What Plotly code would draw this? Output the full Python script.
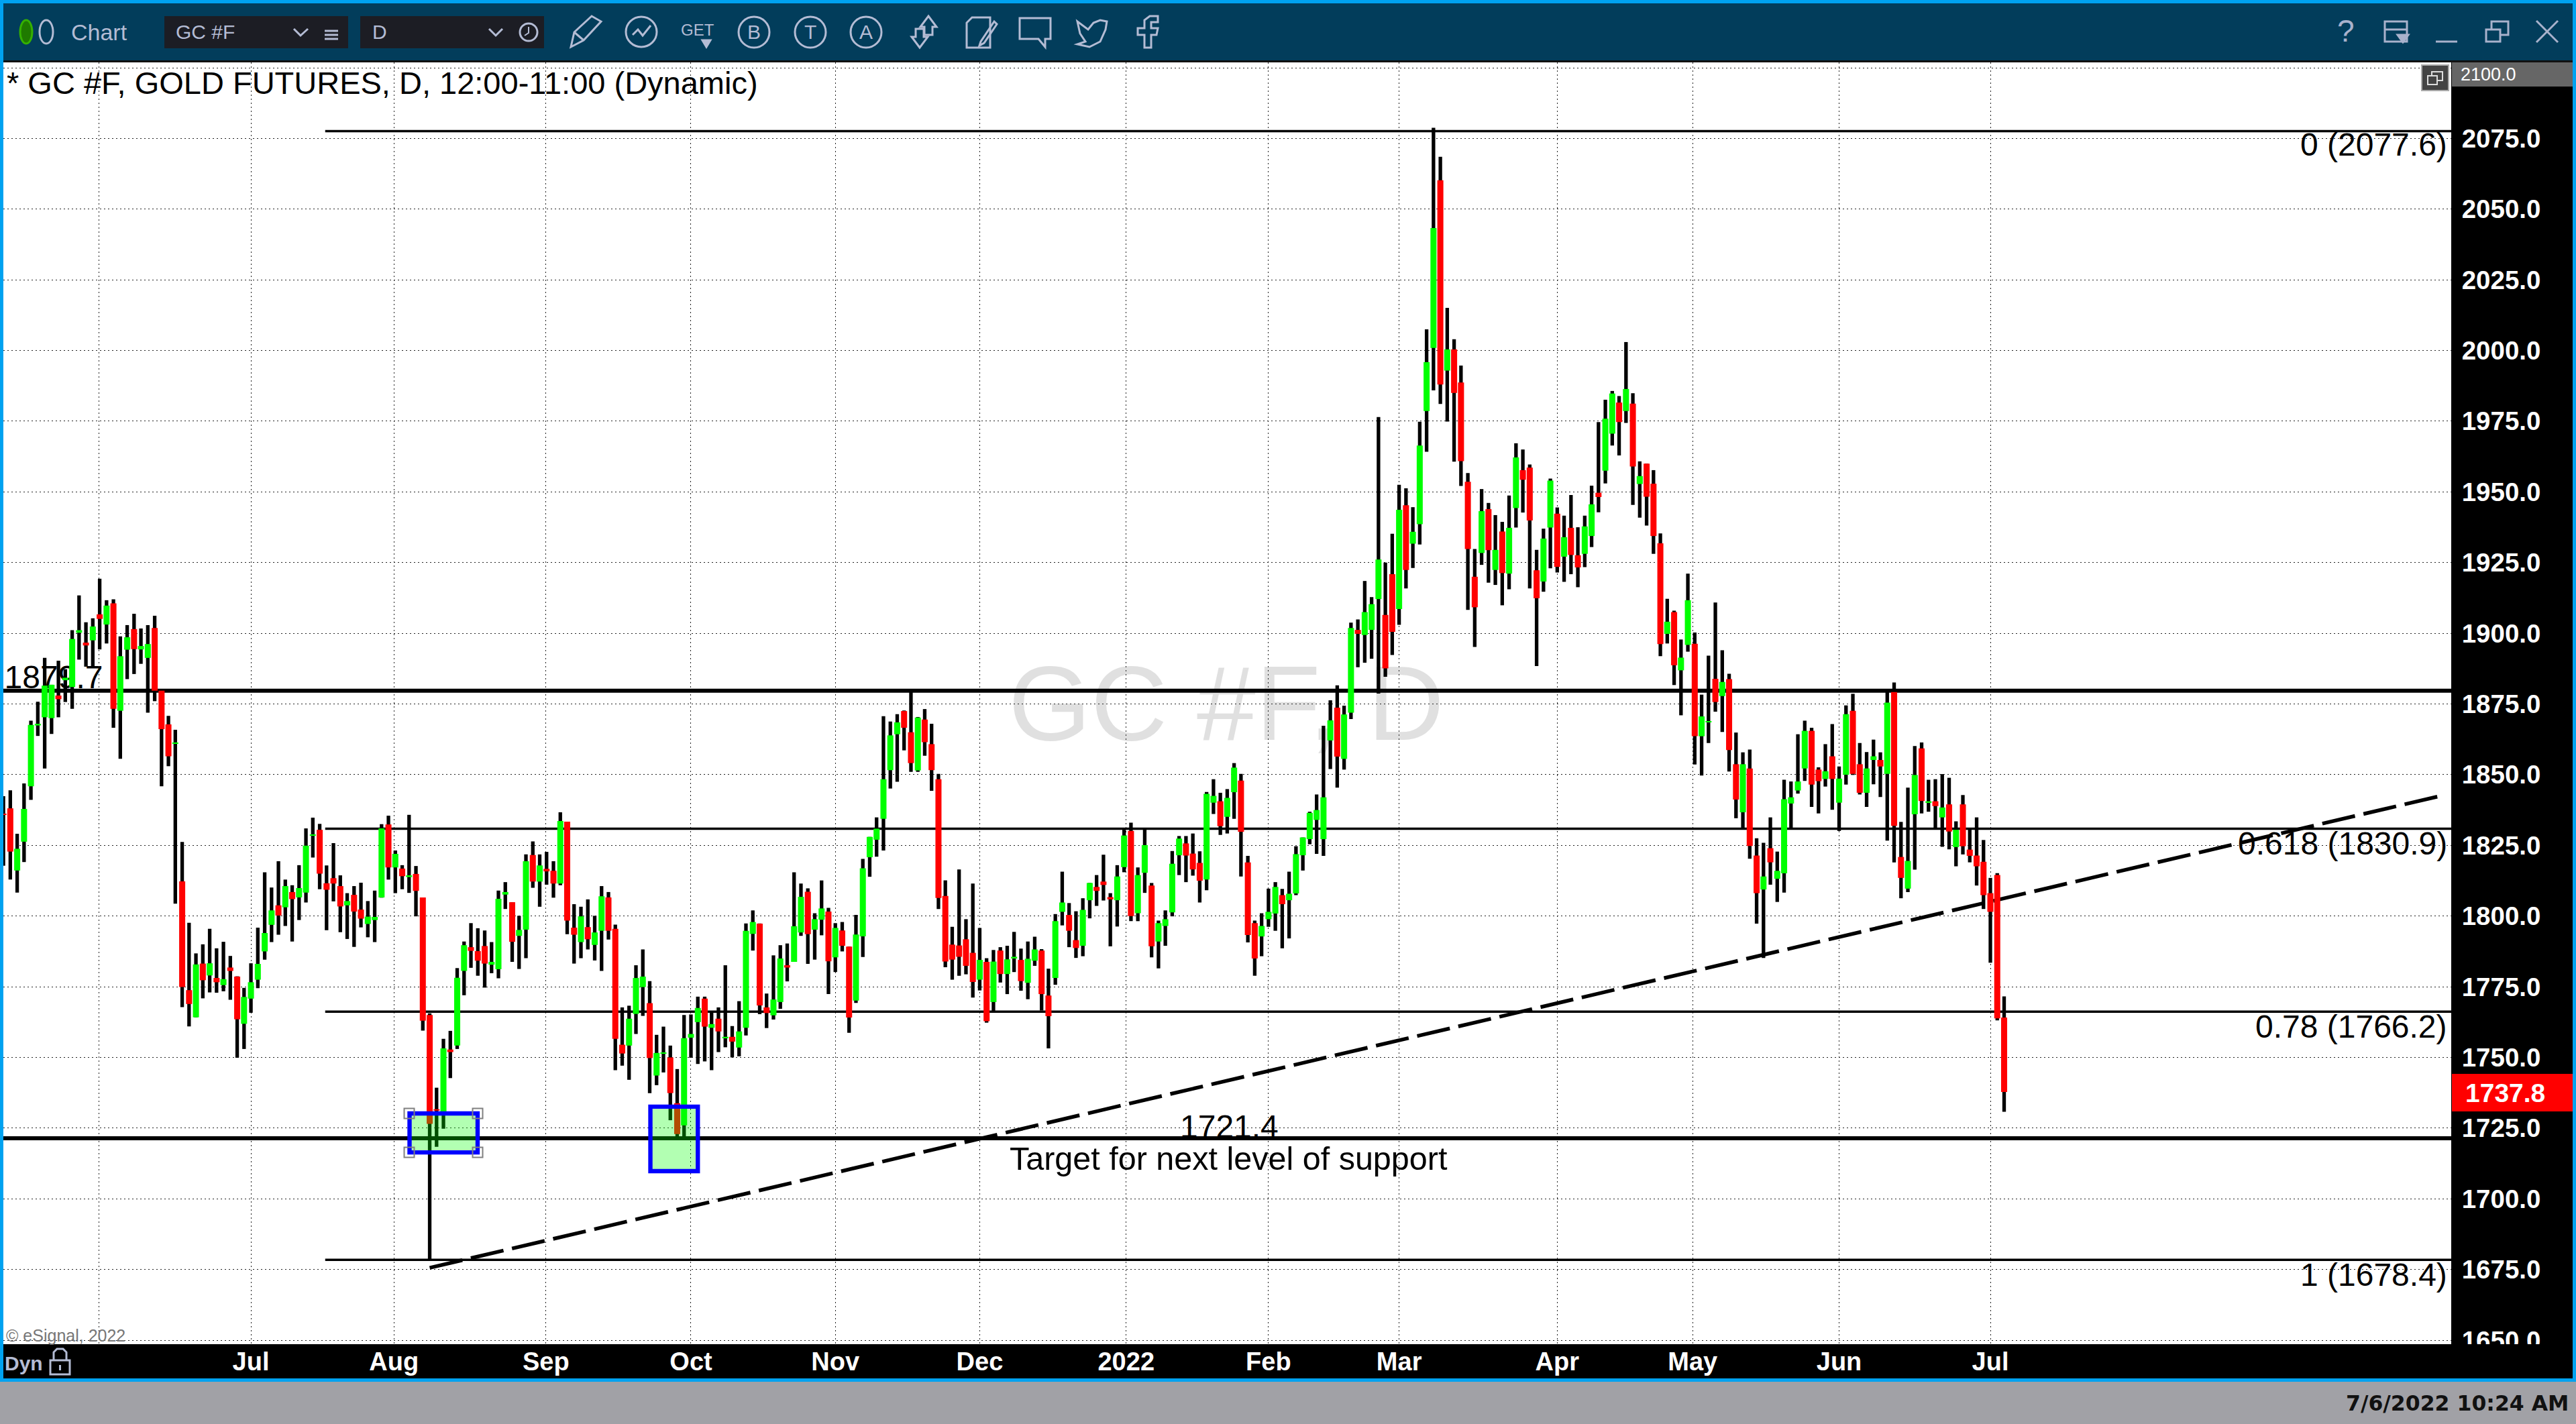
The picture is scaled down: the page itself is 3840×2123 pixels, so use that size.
import plotly.graph_objects as go

highs = [1842.4,1844.5,1829.1,1846.9,1869.1,1875.8,1891.3,1881.8,1890.3,1887.3,
1901.1,1913.4,1903.9,1905.3,1919.3,1911.7,1912,1898.9,1902.9,1906.9,
1901.7,1902.9,1906.2,1879.7,1870.8,1865.9,1826.2,1797.6,1786.8,1790,
1795.5,1788.6,1790.9,1785.9,1778.7,1774.6,1783.3,1795.9,1815.5,1810.1,
1819.4,1812.9,1810.9,1818,1831,1834.8,1832.6,1817.9,1825.8,1814.4,
1808.1,1810.6,1811.8,1805.3,1809,1832.5,1835.5,1823.2,1818,1835.8,
1817.7,1806.6,1765.6,1739.3,1756.6,1759.4,1781.6,1791,1797.5,1795.7,
1794.9,1790.8,1809,1812,1804.9,1800.1,1821.8,1826.4,1821.8,1822.7,
1819.4,1836.7,1833.4,1804.2,1803.3,1805.9,1800.1,1810.6,1808.5,1797,
1767.7,1768.3,1782.6,1788.2,1777,1758,1760.9,1754.2,1745.9,1765,
1765.2,1771.5,1771.5,1766.1,1767.7,1782.6,1761.1,1769.9,1797.4,1802,
1797.4,1772.6,1786.1,1789.7,1790.3,1815.5,1811.5,1809.8,1801,1812.6,
1802.9,1797.5,1797.9,1789.2,1800.4,1820.2,1828,1834.9,1870.7,1868.8,
1871.4,1872.7,1879.4,1870.4,1873.2,1868,1850.3,1812.6,1796.2,1816.5,
1798.9,1811.5,1795.8,1785.1,1788,1789,1789.5,1794.4,1788.5,1791,
1792.7,1788.3,1781.4,1800.7,1815.7,1804.6,1801.7,1806.3,1811.7,1814.5,
1821.7,1808.1,1818,1831.2,1833,1817.2,1830.8,1811.7,1798.4,1802,
1823,1828.3,1828.3,1829.2,1822.9,1843.9,1848.4,1843.6,1844.9,1854.1,
1850.3,1821.3,1798.4,1801,1809.7,1812,1809.6,1815.7,1824.7,1827.8,
1836.9,1843,1867.3,1876.3,1881.6,1874.4,1903.8,1904.9,1918.5,1912.8,
1976.5,1925,1935.2,1952.5,1951.3,1944.6,1974.8,2007.5,2078.8,2068.5,
2015.1,2004,1994.7,1956.7,1929.8,1951,1946.1,1941.8,1939.4,1948.7,
1967.2,1965,1959.7,1929.5,1937,1954.7,1944.5,1941.6,1948.9,1937.5,
1941.6,1952.2,1974.7,1982.6,1985.7,1983.9,2003,1984.9,1960.8,1960,
1957.7,1935.3,1912.2,1908,1897.8,1921.1,1900.3,1878.3,1892.1,1910.9,
1894,1885.7,1864.9,1857.9,1858.9,1827.5,1825.9,1834.9,1822.8,1848.2,
1847.6,1864.3,1869.1,1866.6,1852.6,1860.8,1867.9,1852.9,1874.5,1878.6,
1861.2,1858,1862.4,1857.9,1879.8,1882.6,1833.3,1845.4,1860.1,1861.4,
1848.2,1848.4,1850.2,1848.9,1833.5,1842.8,1830.8,1834.9,1826.9,1813.5,1815.2,1771.6]

lows = [1817.8,1812.9,1808.3,1819.1,1841.1,1863.7,1852.2,1864.4,1870.3,1875.7,
1873.3,1890.7,1888.2,1888.2,1894.3,1896.4,1866.6,1855.6,1883.8,1885.6,
1889.2,1871.9,1876,1845.9,1853,1804.4,1767.8,1761,1764.2,1770.9,
1773,1772.9,1773.4,1770.4,1749.9,1753,1765.8,1774.5,1784.6,1790.8,
1793.4,1796.5,1791,1798.6,1804.8,1820.7,1809.5,1795,1805.2,1794.3,
1791.9,1789.1,1796,1792.5,1790.8,1806.5,1812.9,1808.1,1809.5,1808.2,
1799.9,1759.5,1678,1718.4,1724.8,1742.7,1753,1772,1781.7,1778.9,
1774.7,1779.8,1778,1802.5,1783.8,1781.3,1785.1,1810,1803.3,1811.1,
1806.5,1810.9,1793.6,1783.2,1785.1,1788.2,1784.3,1780.6,1791.7,1745.5,
1747.1,1742.1,1758.3,1764.7,1737.4,1740.2,1744.7,1727.8,1722,1722,
1749.9,1747.7,1748.6,1745.5,1751.9,1753.6,1750,1750.4,1757.8,1787.8,
1765.3,1760.4,1763.4,1767.2,1776.9,1783.8,1793,1783.1,1784.6,1793.2,
1772.4,1780.2,1787.5,1758.7,1769.3,1785.5,1813.9,1821,1823.2,1845.1,
1847.5,1858.6,1851,1851,1856.7,1844.3,1802.5,1781.9,1777.5,1778.9,
1779.4,1771.2,1773.7,1762.3,1766.5,1776.5,1772.4,1780.2,1773.6,1770.6,
1782.4,1766.6,1753.2,1775.7,1796.7,1789,1785.2,1785.8,1799.2,1803.6,
1805.5,1789.3,1796.3,1815.5,1798.2,1798.2,1808.2,1785.4,1781.5,1789.5,
1799.9,1814.5,1812,1814.3,1804.8,1809.1,1836.1,1828.7,1829.2,1834.4,
1814,1790.7,1778.9,1785.8,1796.2,1794.8,1788.6,1792.1,1807.4,1816.1,
1825.4,1822,1821.3,1852,1845.4,1851.8,1869.7,1888,1889.6,1891,
1878.7,1884.6,1892.3,1903,1915.9,1923.1,1931.4,1964.2,1985.9,1981.1,
1974.9,1960.7,1952.1,1908.3,1895.2,1924.2,1917.9,1917.1,1909.9,1915.6,
1937.4,1942.7,1915.9,1888.4,1914.7,1923,1921.5,1918.2,1920.9,1916.3,
1923.4,1930.5,1942.8,1953,1966.4,1962.9,1974.4,1945.4,1940.9,1938.1,
1928.1,1891.9,1896.4,1881.7,1871,1893.5,1853.6,1849.7,1861.2,1872.3,
1865.1,1851.1,1834.6,1830.8,1820.3,1797.3,1785.2,1811.1,1805,1808.3,
1830.8,1843.3,1847.8,1838.6,1836.3,1845.8,1837.6,1830.1,1846.5,1849.9,
1843,1838.6,1846.6,1842.1,1826.7,1819,1806.3,1808.5,1816.4,1836.3,
1836.9,1831.2,1824.5,1823.6,1817.6,1821.8,1819,1810.8,1802.5,1783.5,1763.1,1730.8]

opens = [1836.1,1838.1,1816.1,1826.3,1845.9,1867.4,1870.3,1870,1878,1883.4,
1881,1900.2,1896.7,1897.5,1906.7,1903.1,1910.6,1872.6,1894.2,1901.5,
1894.3,1891.3,1901.9,1879.7,1867.8,1861.1,1812.3,1773.8,1764.2,1783.2,
1779,1778.1,1775.6,1781.8,1778.6,1761.9,1770.8,1777.5,1787.5,1796.9,
1803.8,1803.1,1808.5,1806.6,1808.3,1828.5,1830.5,1811.6,1813.4,1810.6,
1803.8,1807.5,1802.3,1797.2,1798.6,1806.6,1832.4,1817.2,1816.8,1813.8,
1814.9,1806.6,1765,1731.7,1730,1752.8,1754.2,1780.6,1789,1787.6,
1789.4,1782.8,1781.2,1807.6,1804.9,1793,1795.2,1821.6,1812.2,1816.7,
1816,1811.5,1833.4,1795.9,1790.8,1796.1,1789.8,1794.8,1806.6,1795.5,
1754.5,1754.2,1765.4,1774.9,1769.2,1743.6,1751.5,1750,1733.8,1726,
1757,1762.5,1770.8,1760.5,1763.7,1756.9,1757.3,1753.5,1760.5,1793.7,
1797.3,1767.7,1764.9,1769.6,1782.6,1783.8,1794.2,1808.6,1795.2,1798.7,
1801.6,1785.4,1794.9,1789.2,1770.1,1792.8,1820.8,1827,1834.4,1851.6,
1864.3,1872.5,1865,1851.5,1869.5,1860.8,1848.4,1807.1,1789.9,1789.6,
1791.8,1787,1777.5,1783.8,1769.6,1787.8,1779.5,1785.2,1784.5,1776.4,
1784.2,1787.8,1771.9,1778.1,1801.5,1800.4,1791.5,1789.5,1805.6,1810.3,
1812.2,1806.7,1805.6,1817.3,1830.1,1801,1815.3,1810.8,1791,1796.5,
1801.3,1821.5,1825.7,1822.1,1818.8,1812.9,1840.1,1840.6,1835.1,1843.8,
1847.9,1819,1797.5,1792.8,1798.9,1800.9,1807.4,1805.6,1808,1821.5,
1827.2,1834,1827.2,1862.1,1873.7,1855.6,1871.9,1901.2,1899.4,1901.2,
1912.1,1906.5,1920.9,1908.6,1945.3,1931.7,1938.6,1978.6,2000.9,2060.2,
1992.9,2000.4,1988.7,1953.6,1920,1928.4,1943.9,1922.4,1936,1921.1,
1944.3,1957.7,1958.6,1922.3,1918.3,1937.4,1942.3,1927.1,1937.3,1927.6,
1928.1,1934.4,1949.7,1957.5,1970.6,1981.6,1978.6,1981.2,1952.8,1960,
1952.9,1931.8,1899.8,1907.5,1886.9,1895.9,1896.3,1863.6,1868.5,1883.9,
1877.8,1883.8,1853.7,1836.7,1852.2,1821.4,1809.4,1824,1813.2,1815.1,
1839.8,1844.4,1852.2,1865.5,1851.8,1848.5,1856.5,1840.1,1850,1872.6,
1853.7,1843.6,1855.2,1855.2,1850.3,1879.2,1820.9,1809.7,1836,1859.3,
1840.2,1840.6,1834.9,1839.5,1824.4,1839.5,1823.5,1821.4,1819.2,1808.1,1814.5,1764.1]

closes = [1835.9,1822.8,1823.8,1837.9,1867.6,1868,1881.5,1881.8,1876.7,1884.3,
1898,1901.1,1895.7,1902.4,1905.1,1909.8,1873.3,1891.9,1898.6,1894.4,
1895.5,1896.2,1879.7,1866.1,1856.5,1861.4,1774.9,1768.9,1782.9,1777.3,
1783.3,1776.6,1777.7,1780.6,1763.5,1771.4,1776.6,1783.1,1794,1802,
1800.2,1810.6,1806,1809.9,1824.9,1828.7,1815,1809.3,1811.5,1803.4,
1805.3,1801.6,1799.1,1799.8,1799.7,1831,1817.2,1822,1814.1,1814.4,
1808.9,1763,1726.5,1731.2,1753.2,1751.9,1778.2,1789.7,1787.7,1784.2,
1783.2,1783.8,1806.1,1808.5,1790.9,1795.1,1819.4,1812.2,1817.9,1815.8,
1811.5,1833.6,1798.4,1793.4,1799.9,1791.8,1794.2,1807,1794.8,1756.6,
1751.4,1763.7,1778.1,1778.6,1749.8,1751.6,1751.7,1737.4,1722.9,1756.8,
1758.3,1767.5,1760.9,1761.8,1759.2,1757.3,1755.6,1759.2,1794.8,1797.9,
1768.4,1765.7,1770.5,1785,1781.8,1796.4,1806.8,1793.6,1798.9,1802.7,
1784,1795.8,1789.5,1764.1,1793.5,1816.9,1828,1830.9,1848.4,1863.9,
1868.5,1866.6,1854.1,1870.2,1861.5,1851.6,1806.4,1783.9,1784.6,1785.6,
1782.4,1776.7,1784.5,1762.8,1783.9,1779.5,1784.7,1785.6,1777,1784.9,
1788.2,1772.4,1764.6,1798.2,1804.8,1794.8,1788.7,1802.2,1811.7,1808.9,
1811,1805.9,1814,1828.5,1800,1814.5,1825.1,1789.3,1797.5,1798.9,
1818.5,1827.4,1821.4,1816.5,1812.5,1843.2,1842.5,1831.8,1841.8,1852.5,
1829.8,1793.3,1785,1796.5,1801.5,1810.3,1804.2,1807.9,1821.9,1827.8,
1836.5,1837.5,1842,1869.2,1856.4,1871.3,1901.9,1899.8,1907.5,1910.3,
1926.1,1887.6,1900.5,1943.7,1922.4,1935.9,1966.4,1995.9,2043.3,1988,
2000.4,1985,1960.9,1929.8,1909.2,1943.2,1929.4,1929.5,1921.3,1937.3,
1962.2,1954.3,1939.9,1912.4,1933.5,1954,1923.5,1934,1927.7,1923.3,
1937.8,1945.6,1948.2,1975.9,1984.8,1974.7,1986.4,1959,1955.6,1948.3,
1934.4,1896.2,1904.1,1888.7,1891.4,1911.7,1863.6,1870.6,1868.8,1875.7,
1882.8,1858.7,1841.2,1853.7,1824.8,1808.1,1814,1819,1816,1841.3,
1842,1847.6,1865.5,1846.5,1847.7,1851.2,1848.5,1848.6,1871.4,1850.3,
1843.6,1852.2,1856.5,1852.9,1875.5,1831.9,1813.5,1819.5,1849.9,1840.7,
1840.6,1838.9,1838.4,1829.9,1830.5,1824.7,1821.3,1817.6,1807.4,1801.5,1763.8,1737.8]

assert len(highs) == len(lows) == len(opens) == len(closes) == 292, (len(highs), len(lows), len(opens), len(closes))

month_ticks = [13.94, 36.0, 56.8, 78.9, 100.0, 121.0, 142.0, 163.3, 184.0, 203.0, 226.0, 245.7, 267.0, 289.0]
month_labels = ["", "Jul", "Aug", "Sep", "Oct", "Nov", "Dec", "2022", "Feb", "Mar", "Apr", "May", "Jun", "Jul"]
price_ticks = [1650, 1675, 1700, 1725, 1750, 1775, 1800, 1825, 1850, 1875, 1900, 1925, 1950, 1975, 2000, 2025, 2050, 2075]
fib_levels = [2077.6, 1830.9, 1766.2, 1678.4]
fib_labels = ["0 (2077.6)", "0.618 (1830.9)", "0.78 (1766.2)", "1 (1678.4)"]
level_lines = [1879.7, 1721.4]
trend_x = [62, 355]
trend_y = [1675.6, 1842.8]
fib_start = 46.8
box_a = [59.07, 68.97, 1716.4, 1730.2]
box_b = [94.1, 101.0, 1709.8, 1732.6]

W, H = 3840, 2123
L, R, T, B = 5, 3654, 93, 2004
X_RANGE = [-0.01, 356.03]
Y_RANGE = [1648.6, 2101.9]

def X(p): return (p - L) / (R - L)
def Y(p): return 1 - (p - T) / (B - T)

SANS = "Liberation Sans"
ICON = "#b4bcd4"
BLUE = "#00a2f0"
HEAD = "#023d5b"

ids = list(range(len(highs)))
tops = [max(o, c) for o, c in zip(opens, closes)]
bots = [min(o, c) for o, c in zip(opens, closes)]
colors = ["#00ff00" if c > o else "#ff0000" for o, c in zip(opens, closes)]

fig = go.Figure()
fig.add_trace(go.Bar(x=ids, y=[h - l for h, l in zip(highs, lows)], base=lows, width=0.52,
                     marker=dict(color="black", line=dict(width=0)), hoverinfo="skip"))
fig.add_trace(go.Bar(x=ids, y=[t - b for t, b in zip(tops, bots)], base=bots, width=0.88,
                     marker=dict(color=colors, line=dict(width=0)), hoverinfo="skip"))

shapes, annos = [], []

def rect(x0, y0, x1, y1, fill="rgba(0,0,0,0)", line=None, width=0, layer="above"):
    shapes.append(dict(type="rect", xref="paper", yref="paper", x0=X(x0), x1=X(x1), y0=Y(y1), y1=Y(y0),
                       fillcolor=fill, line=dict(color=line or "rgba(0,0,0,0)", width=width), layer=layer))

def circ(x0, y0, x1, y1, fill="rgba(0,0,0,0)", line=ICON, width=3):
    shapes.append(dict(type="circle", xref="paper", yref="paper", x0=X(x0), x1=X(x1), y0=Y(y1), y1=Y(y0),
                       fillcolor=fill, line=dict(color=line, width=width), layer="above"))

def poly(pts, color=ICON, width=3, close=False, fill=None):
    d = "M " + " L ".join(f"{X(a):.6f} {Y(b):.6f}" for a, b in pts) + (" Z" if close else "")
    shapes.append(dict(type="path", xref="paper", yref="paper", path=d, layer="above",
                       fillcolor=fill or "rgba(0,0,0,0)", line=dict(color=color, width=width)))

def text(x, y, s, size, color="black", anchor="left", family=SANS, weight=400):
    annos.append(dict(xref="paper", yref="paper", x=X(x), y=Y(y), text=s, showarrow=False, xanchor=anchor,
                      yanchor="middle", font=dict(family=family, size=size, color=color, weight=weight),
                      borderpad=0, borderwidth=0))

# Items that sit underneath the candles
def under_label(xc, yc, s, size, color):
    shapes.append(dict(type="line", xref="paper", yref="paper", x0=X(xc - 2), x1=X(xc + 2), y0=Y(yc), y1=Y(yc),
                       line=dict(width=0, color="rgba(0,0,0,0)"), layer="below",
                       label=dict(text=s, font=dict(family=SANS, size=size, color=color),
                                  textposition="middle center", xanchor="center", yanchor="middle")))

under_label(1828, 1033, "GC #F, D", 158, "#e0e0e0")
under_label(80, 1004, "1879.7", 48, "black")

for v in fib_levels:
    shapes.append(dict(type="line", xref="x", yref="y", x0=fib_start, x1=X_RANGE[1], y0=v, y1=v,
                       line=dict(color="black", width=3.5), layer="between"))
for v in level_lines:
    shapes.append(dict(type="line", xref="x", yref="y", x0=X_RANGE[0], x1=X_RANGE[1], y0=v, y1=v,
                       line=dict(color="black", width=6), layer="between"))
shapes.append(dict(type="line", xref="x", yref="y", x0=trend_x[0], x1=trend_x[1], y0=trend_y[0], y1=trend_y[1],
                   line=dict(color="black", width=5.5, dash="50px,13px"), layer="between"))

# Highlight boxes
for b in (box_a, box_b):
    shapes.append(dict(type="rect", xref="x", yref="y", x0=b[0], x1=b[1], y0=b[2], y1=b[3],
                       fillcolor="rgba(0,255,0,0.3)", line=dict(color="#0000ff", width=6.4), layer="above"))
for hx, hy in ((610, 1660), (712, 1660), (610, 1718), (712, 1718)):
    rect(hx - 7.5, hy - 7.5, hx + 7.5, hy + 7.5, line="#808080", width=2)

# Window chrome
rect(3654, 2004, 3835, 2055, fill="black")
rect(0, 0, 3840, 5, fill=BLUE)
rect(0, 5, 3840, 90, fill=HEAD)
rect(0, 90, 3840, 93, fill="#111111")
rect(0, 0, 5, 2060, fill=BLUE)
rect(3835, 0, 3840, 2060, fill=BLUE)
rect(0, 2055, 3840, 2060, fill=BLUE)
rect(0, 2060, 3840, 2123, fill="#a1a1a6")
rect(3655, 93, 3835, 129, fill="#666666")
rect(3655, 1601, 3835, 1657, fill="#ff0000")
rect(3610, 97, 3650, 135, fill="#444444", line="#aaaaaa", width=2)
rect(3619, 113, 3633, 126, line="#dddddd", width=2)
poly([(3625, 113), (3625, 107), (3641, 107), (3641, 120), (3633, 120)], color="#dddddd", width=2)

circ(30, 30, 48, 65, fill="#1f7a00", line="#35b000", width=3)
circ(59, 30, 79, 65, line=ICON, width=3)
text(106, 48, "Chart", 34, ICON)
rect(245, 24, 519, 72, fill="#1c1d24")
rect(537, 24, 811, 72, fill="#1c1d24")
text(262, 48, "GC #F", 30, ICON)
text(555, 48, "D", 30, ICON)
poly([(438, 43), (448, 53), (459, 43)])
for yy in (46, 52, 58):
    poly([(484, yy), (504, yy)], width=3)
poly([(729, 43), (739, 53), (749, 43)])
circ(775, 35, 801, 61)
poly([(788, 40), (788, 49), (782, 53)], width=2)

poly([(851, 70), (856, 48), (882, 24), (896, 32), (870, 60)], close=True)
poly([(856, 48), (870, 60)])
circ(933, 25, 979, 70)
poly([(943, 52), (951, 44), (958, 53), (970, 38)])
text(1040, 44, "GET", 24, ICON, anchor="center")
poly([(1047, 60), (1059, 60), (1053, 70)], close=True, fill=ICON)
for cx, s in ((1124, "B"), (1208, "T"), (1291, "A")):
    circ(cx - 23, 25, cx + 23, 71)
    text(cx, 48, s, 30, ICON, anchor="center")
poly([(1384, 24), (1396, 40), (1390, 40), (1390, 52), (1378, 52), (1378, 40), (1372, 40)], close=True)
poly([(1371, 71), (1359, 55), (1365, 55), (1365, 43), (1377, 43), (1377, 55), (1383, 55)], close=True)
poly([(1441, 34), (1449, 26), (1476, 26), (1476, 71), (1441, 71)], close=True)
poly([(1482, 32), (1462, 62), (1460, 68), (1467, 64), (1486, 36)], close=True)
poly([(1520, 27), (1566, 27), (1566, 58), (1558, 58), (1558, 70), (1548, 58), (1520, 58)], close=True)
poly([(1606, 32), (1622, 44), (1630, 34), (1640, 30), (1650, 32), (1648, 44), (1640, 62), (1624, 70),
      (1606, 66), (1618, 62), (1610, 50)], close=True)
poly([(1706, 71), (1706, 52), (1696, 52), (1696, 42), (1706, 42), (1706, 30), (1714, 24), (1726, 24),
      (1726, 33), (1716, 33), (1716, 42), (1726, 42), (1724, 52), (1716, 52), (1716, 71)], close=True)

text(3497, 46, "?", 46, "#a9b2cc", anchor="center")
rect(3555, 32, 3588, 62, line="#a9b2cc", width=3)
poly([(3555, 44), (3588, 44)], color="#a9b2cc")
poly([(3574, 52), (3590, 52), (3582, 63)], color="#a9b2cc", close=True, fill="#a9b2cc")
poly([(3631, 62), (3663, 62)], color="#a9b2cc")
rect(3706, 44, 3727, 62, line="#a9b2cc", width=3)
poly([(3714, 44), (3714, 32), (3739, 32), (3739, 52), (3727, 52)], color="#a9b2cc")
poly([(3781, 31), (3813, 63)], color="#a9b2cc")
poly([(3813, 31), (3781, 63)], color="#a9b2cc")

text(10, 124, "* GC #F, GOLD FUTURES, D, 12:00-11:00 (Dynamic)", 47)
text(3668, 111, "2100.0", 27, "white")
text(3675, 1629, "1737.8", 39, "white", weight=700)

fib_y_px = [216, 1257, 1530, 1900]
for yy, s in zip(fib_y_px, fib_labels):
    text(3648, yy, s, 48, anchor="right")
text(1832, 1679, "1721.4", 48, anchor="center")
text(1831, 1727, "Target for next level of support", 48.5, anchor="center")
text(9, 1991, "© eSignal, 2022", 25, "#777777")
text(7, 2032, "Dyn", 30, ICON, weight=700)
rect(75, 2028, 104, 2049, line=ICON, width=3)
poly([(80, 2028), (80, 2016), (85, 2011), (94, 2011), (99, 2016), (99, 2028)])
poly([(89.5, 2035), (89.5, 2043)], width=3)
text(3829, 2092, "7/6/2022 10:24 AM", 31.5, "#111111", anchor="right", family="DejaVu Sans", weight=700)

fig.update_layout(
    width=W, height=H, autosize=False, showlegend=False, barmode="overlay",
    margin=dict(l=L, r=W - R, t=T, b=H - B, pad=0),
    paper_bgcolor="black", plot_bgcolor="white",
    shapes=shapes, annotations=annos,
    xaxis=dict(range=X_RANGE, tickmode="array", tickvals=month_ticks, ticktext=month_labels,
               showgrid=True, gridcolor="#222222", gridwidth=1.4, griddash="2px,4px", zeroline=False,
               showline=False, ticks="", ticklabelstandoff=0,
               tickfont=dict(family=SANS, size=38, color="white", weight=700)),
    yaxis=dict(range=Y_RANGE, side="right", tickmode="array", tickvals=price_ticks + [2100],
               ticktext=[f"{v:.1f}" for v in price_ticks] + [""],
               showgrid=True, gridcolor="#222222", gridwidth=1.4, griddash="2px,4px", zeroline=False,
               showline=False, ticks="outside", ticklen=7, tickcolor="black",
               tickfont=dict(family=SANS, size=38.5, color="white", weight=700)),
)

fig.write_html("out.html", config={"displayModeBar": False},
               post_script="document.body.style.margin='0';document.body.style.overflow='hidden';")
